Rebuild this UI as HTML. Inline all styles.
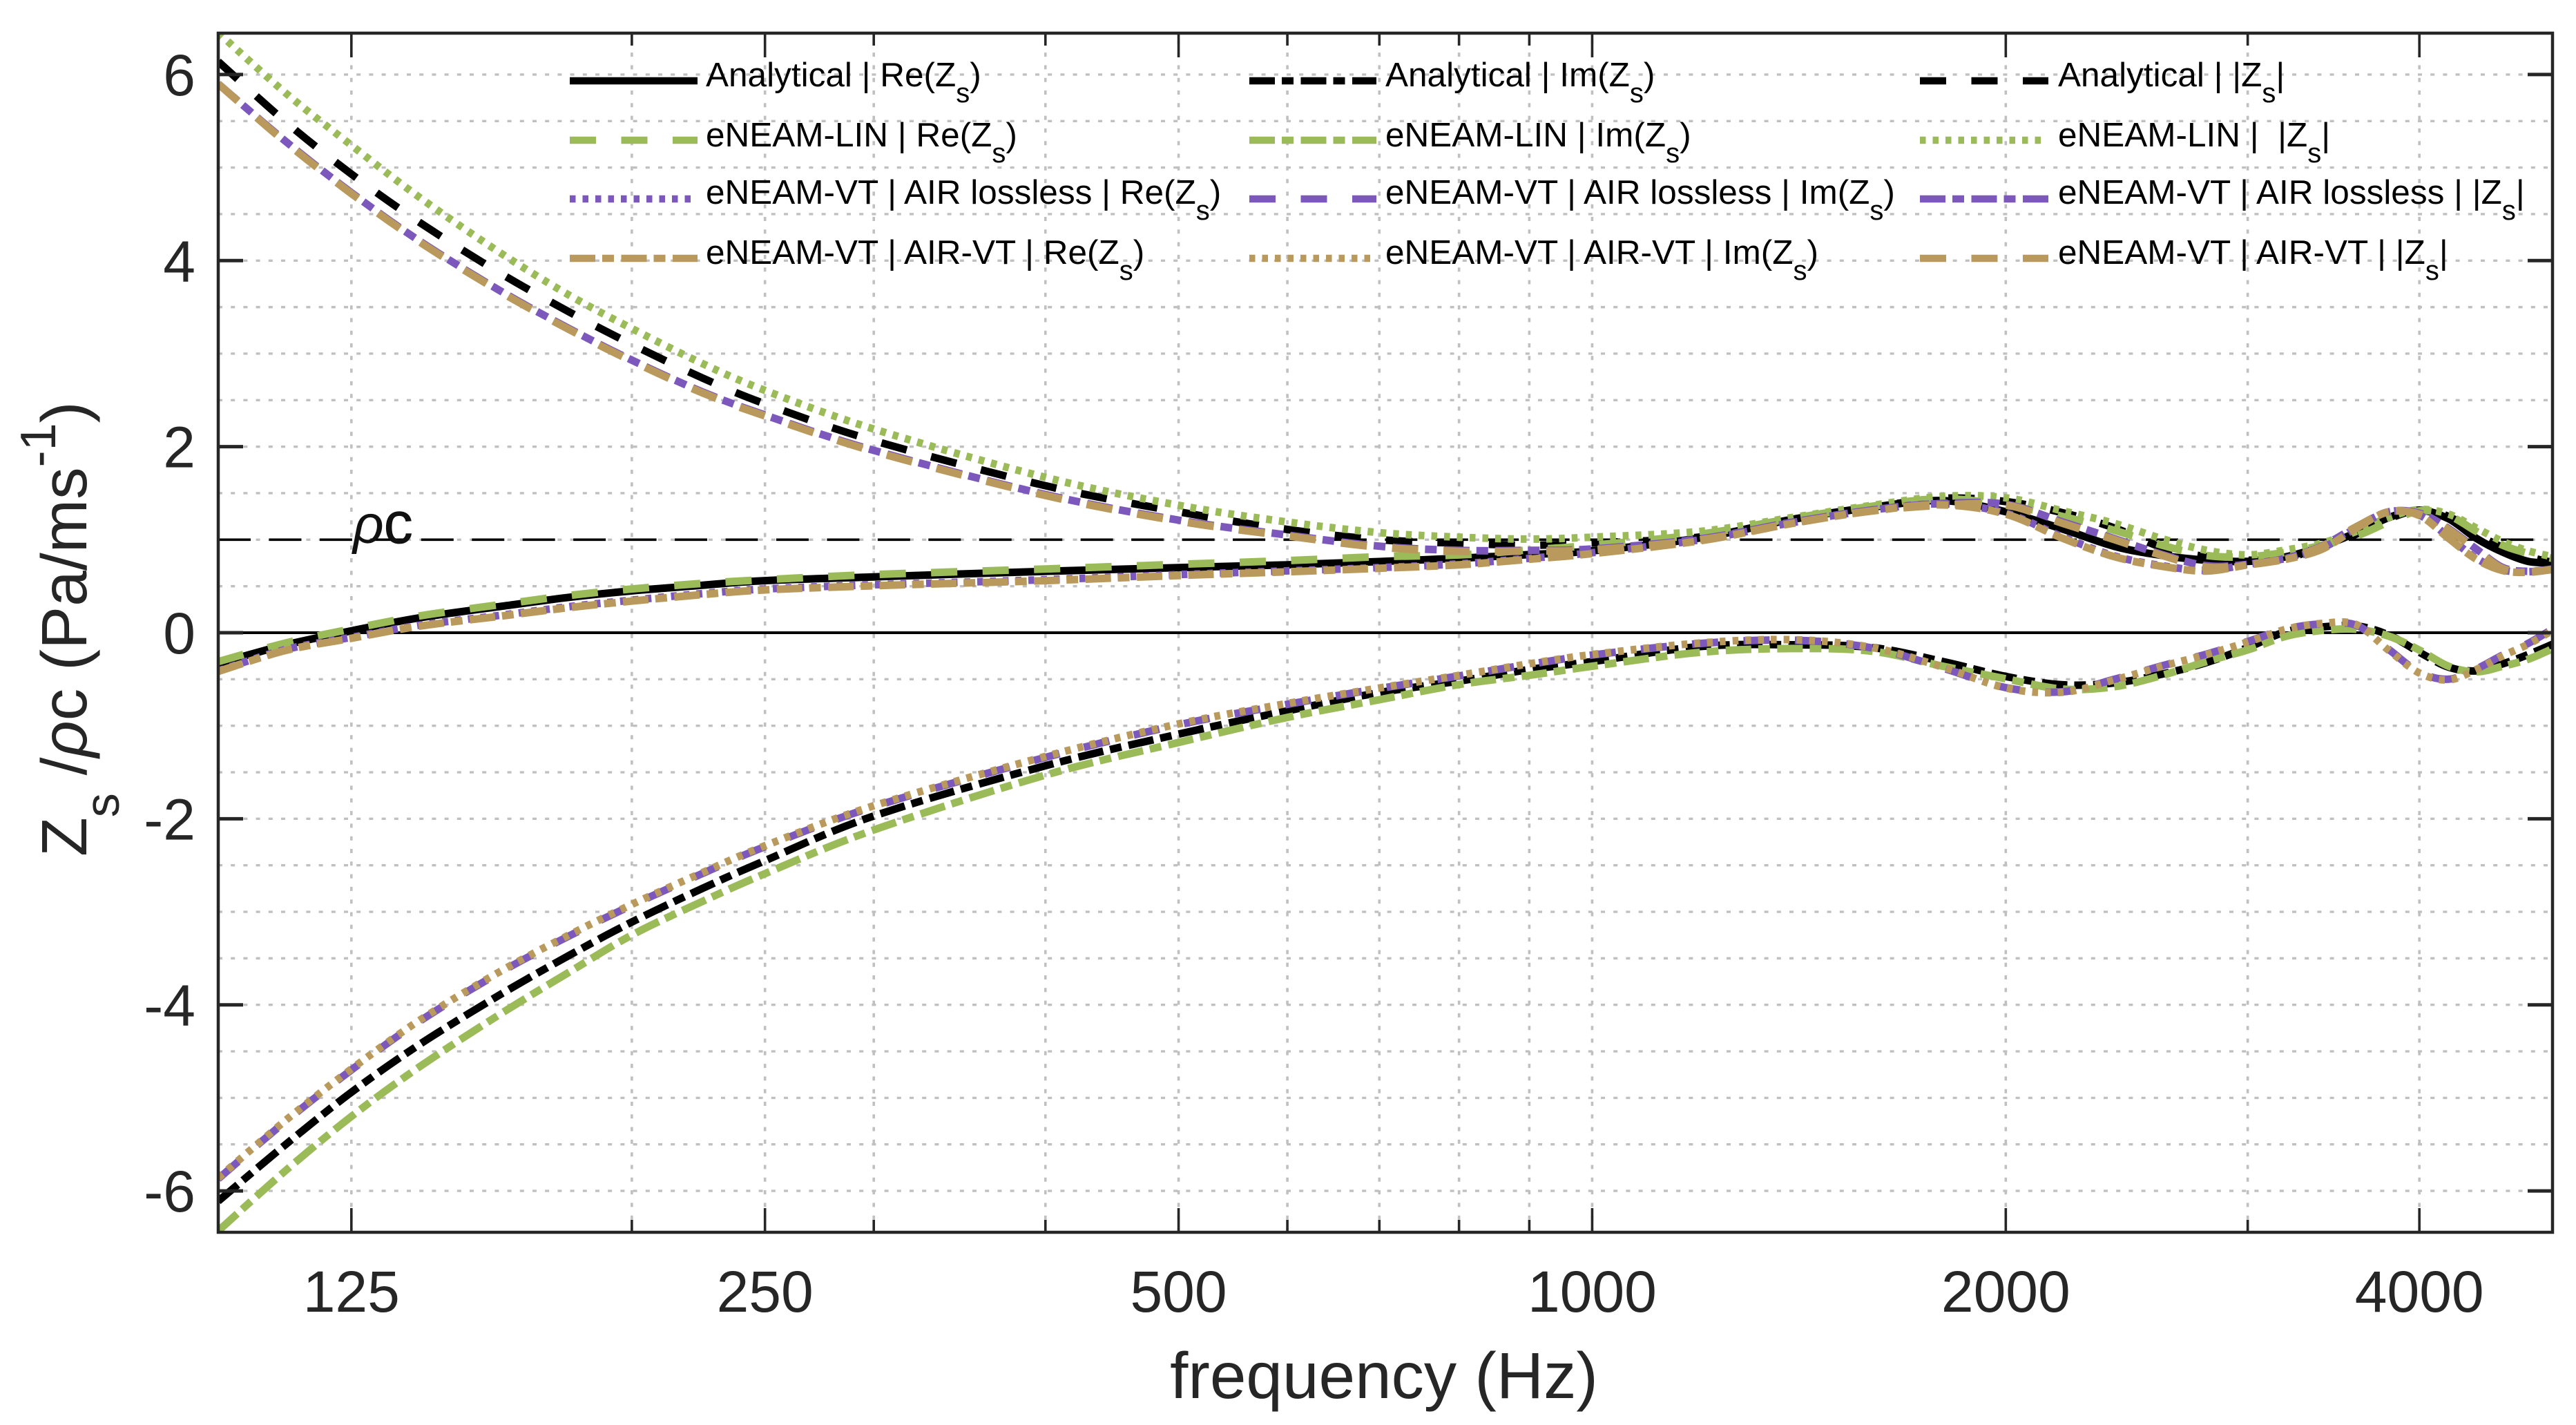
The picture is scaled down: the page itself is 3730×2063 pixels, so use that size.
<!DOCTYPE html>
<html lang="en">
<head>
<meta charset="utf-8">
<title>Normalised surface impedance versus frequency</title>
<style>
  html, body { margin: 0; padding: 0; background: #fff; }
  svg { display: block; font-family: "Liberation Sans", Arial, sans-serif; }
  .lg { font-size: 49.5px; fill: #000; white-space: pre; }
  .lgs { font-size: 40px; }
  .dash-solid { stroke-dasharray: none; }
  .dash-dashed { stroke-dasharray: 38 36.5; }
  .dash-dashdot { stroke-dasharray: 37 10 17 10.5; }
  .dash-dotted { stroke-dasharray: 8.5 10; }
  .lgl { stroke-width: 10.5; fill: none; }
  .ax { fill: #262626; }
</style>
</head>
<body>
<svg id="chart" xmlns="http://www.w3.org/2000/svg" width="3730" height="2063" viewBox="0 0 3730 2063">
  <rect x="0" y="0" width="3730" height="2063" fill="#fff"/>
  <defs><clipPath id="plot-clip"><rect x="316" y="48" width="3380" height="1736"/></clipPath></defs>
  <g id="grid"></g>
  <g id="refs"></g>
  <g id="series" clip-path="url(#plot-clip)"></g>
  <g id="ticks"></g>
  <rect x="316" y="48" width="3380" height="1736" fill="none" stroke="#262626" stroke-width="4.5"/>
  <g id="tick-labels"></g>

  <text class="ax" x="2004" y="2024" font-size="94.5" text-anchor="middle">frequency (Hz)</text>
  <text class="ax" transform="translate(125,1240) rotate(-90)" font-size="93" xml:space="preserve">Z<tspan font-size="70" dy="47">s</tspan><tspan dy="-47"> /</tspan><tspan font-style="italic">ρ</tspan>c (Pa/ms<tspan font-size="72" dy="-45">-1</tspan><tspan dy="45">)</tspan></text>
  <text x="511" y="786" font-size="78" fill="#111"><tspan font-style="italic">ρ</tspan><tspan font-size="84" stroke="#111" stroke-width="0.8">c</tspan></text>

  <g>
    <g><line class="lgl dash-solid" x1="825" x2="1010" y1="117" y2="117" stroke="#000"/><text class="lg" x="1022" y="125">Analytical | Re(Z<tspan class="lgs" dy="23">s</tspan><tspan dy="-23">)</tspan></text></g>
    <g><line class="lgl dash-dashdot" x1="1809" x2="1993" y1="117" y2="117" stroke="#000"/><text class="lg" x="2006" y="125">Analytical | Im(Z<tspan class="lgs" dy="23">s</tspan><tspan dy="-23">)</tspan></text></g>
    <g><line class="lgl dash-dashed" x1="2780" x2="2966" y1="117" y2="117" stroke="#000"/><text class="lg" x="2980" y="125">Analytical | |Z<tspan class="lgs" dy="23">s</tspan><tspan dy="-23">|</tspan></text></g>

    <g><line class="lgl dash-dashed" x1="825" x2="1010" y1="203" y2="203" stroke="#9bbb59"/><text class="lg" x="1022" y="212">eNEAM-LIN | Re(Z<tspan class="lgs" dy="23">s</tspan><tspan dy="-23">)</tspan></text></g>
    <g><line class="lgl dash-dashdot" x1="1809" x2="1993" y1="203" y2="203" stroke="#9bbb59"/><text class="lg" x="2006" y="212">eNEAM-LIN | Im(Z<tspan class="lgs" dy="23">s</tspan><tspan dy="-23">)</tspan></text></g>
    <g><line class="lgl dash-dotted" x1="2780" x2="2962" y1="203" y2="203" stroke="#9bbb59"/><text class="lg" x="2980" y="212">eNEAM-LIN |  |Z<tspan class="lgs" dy="23">s</tspan><tspan dy="-23">|</tspan></text></g>

    <g><line class="lgl dash-dotted" x1="825" x2="1002" y1="288" y2="288" stroke="#7c58bd"/><text class="lg" x="1022" y="295">eNEAM-VT | AIR lossless | Re(Z<tspan class="lgs" dy="23">s</tspan><tspan dy="-23">)</tspan></text></g>
    <g><line class="lgl dash-dashed" x1="1809" x2="1993" y1="288" y2="288" stroke="#7c58bd"/><text class="lg" x="2006" y="295">eNEAM-VT | AIR lossless | Im(Z<tspan class="lgs" dy="23">s</tspan><tspan dy="-23">)</tspan></text></g>
    <g><line class="lgl dash-dashdot" x1="2780" x2="2966" y1="288" y2="288" stroke="#7c58bd"/><text class="lg" x="2980" y="295">eNEAM-VT | AIR lossless | |Z<tspan class="lgs" dy="23">s</tspan><tspan dy="-23">|</tspan></text></g>

    <g><line class="lgl dash-dashdot" x1="825" x2="1010" y1="374" y2="374" stroke="#ba9a5c"/><text class="lg" x="1022" y="382">eNEAM-VT | AIR-VT | Re(Z<tspan class="lgs" dy="23">s</tspan><tspan dy="-23">)</tspan></text></g>
    <g><line class="lgl dash-dotted" x1="1809" x2="1986" y1="374" y2="374" stroke="#ba9a5c"/><text class="lg" x="2006" y="382">eNEAM-VT | AIR-VT | Im(Z<tspan class="lgs" dy="23">s</tspan><tspan dy="-23">)</tspan></text></g>
    <g><line class="lgl dash-dashed" x1="2780" x2="2966" y1="374" y2="374" stroke="#ba9a5c"/><text class="lg" x="2980" y="382">eNEAM-VT | AIR-VT | |Z<tspan class="lgs" dy="23">s</tspan><tspan dy="-23">|</tspan></text></g>
  </g>
</svg>

<script>
var frequencies = [100,112,125,140,160,180,200,225,250,300,400,500,600,700,800,900,1000,1200,1400,1600,1800,2000,2200,2400,2600,2800,3000,3200,3400,3600,3800,4000,4200,4400,4600,4800,5000];

var analyticalRe = [-.33,-.13,.02,.16,.28,.38,.45,.51,.56,.60,.66,.70,.73,.765,.80,.84,.88,1.02,1.22,1.35,1.42,1.30,1.114,.928,.83,.78,.767,.817,.93,1.077,1.238,1.317,1.225,1.015,.866,.767,.75];
var analyticalIm = [-6.11,-5.5,-4.94,-4.43,-3.9,-3.47,-3.11,-2.75,-2.45,-1.97,-1.43,-1.09,-.84,-.644,-.52,-.396,-.31,-.148,-.13,-.16,-.31,-.47,-.56,-.54,-.445,-.32,-.16,.012,.062,.074,-.025,-.21,-.37,-.41,-.334,-.235,-.124];
var analyticalAbs = [6.14,5.49,4.93,4.415,3.875,3.45,3.10,2.74,2.46,2.065,1.58,1.30,1.11,1.0,.963,.94,.965,1.03,1.22,1.35,1.445,1.41,1.29,1.126,.916,.817,.78,.80,.93,1.06,1.225,1.317,1.25,1.064,.916,.817,.755];

var linRe = [-.31,-.11,.04,.18,.30,.40,.47,.53,.57,.625,.685,.735,.775,.817,.836,.89,.94,1.06,1.23,1.36,1.44,1.37,1.25,1.10,.94,.83,.817,.866,.94,1.04,1.19,1.31,1.26,1.09,.94,.854,.80];
var linIm = [-6.43,-5.78,-5.2,-4.67,-4.11,-3.65,-3.25,-2.89,-2.59,-2.12,-1.53,-1.18,-.91,-.72,-.557,-.458,-.36,-.21,-.17,-.2,-.36,-.495,-.606,-.58,-.458,-.31,-.185,-.037,.025,.037,-.037,-.186,-.36,-.42,-.36,-.285,-.173];
var linAbs = [6.45,5.80,5.24,4.684,4.095,3.63,3.27,2.895,2.605,2.19,1.67,1.37,1.19,1.076,1.027,1.007,1.027,1.09,1.24,1.37,1.465,1.45,1.31,1.175,1.01,.886,.837,.89,.965,1.09,1.24,1.324,1.275,1.126,.98,.88,.817];

var losslessRe = [-.41,-.18,-.05,.08,.185,.28,.35,.42,.47,.515,.57,.625,.665,.70,.74,.80,.86,1.0,1.185,1.32,1.385,1.285,1.03,.825,.72,.67,.735,.80,.91,1.13,1.30,1.265,1.03,.80,.675,.655,.685];
var losslessIm = [-5.87,-5.25,-4.70,-4.18,-3.66,-3.26,-2.93,-2.59,-2.30,-1.87,-1.34,-.99,-.77,-.6,-.465,-.34,-.24,-.115,-.08,-.165,-.38,-.59,-.635,-.5,-.355,-.23,-.095,.04,.095,.08,-.18,-.425,-.5,-.39,-.24,-.115,.04];
var losslessAbs = [5.9,5.28,4.73,4.215,3.685,3.27,2.93,2.59,2.34,1.96,1.485,1.21,1.05,.93,.885,.885,.90,1.01,1.19,1.32,1.39,1.38,1.19,1.01,.84,.72,.735,.80,.935,1.14,1.30,1.285,1.12,.90,.70,.66,.685];

var airVtRe = [-.416,-.19,-.06,.07,.175,.27,.34,.41,.46,.505,.56,.615,.655,.693,.73,.79,.85,.99,1.176,1.31,1.374,1.275,1.015,.817,.713,.663,.73,.79,.90,1.126,1.30,1.26,1.015,.79,.668,.65,.68];
var airVtIm = [-5.86,-5.24,-4.69,-4.17,-3.65,-3.25,-2.92,-2.58,-2.29,-1.86,-1.33,-.98,-.76,-.594,-.458,-.334,-.235,-.11,-.075,-.16,-.37,-.594,-.64,-.507,-.36,-.235,-.10,.037,.1,.087,-.19,-.433,-.507,-.396,-.248,-.124,.025];
var airVtAbs = [5.9,5.27,4.72,4.205,3.675,3.26,2.92,2.58,2.33,1.95,1.475,1.2,1.04,.92,.875,.878,.89,1.0,1.18,1.31,1.37,1.374,1.176,1.0,.83,.705,.73,.797,.93,1.14,1.30,1.275,1.11,.89,.69,.656,.68];

var xMajorTicks = [125,250,500,1000,2000,4000];
var xTickLabels = ["125","250","500","1000","2000","4000"];
var xMinorTicks = [200,300,400,600,700,800,900,3000];
var yMajorTicks = [-6,-4,-2,0,2,4,6];
var yTickLabels = ["-6","-4","-2","0","2","4","6"];
var yGridValues = [-6,-5.5,-5,-4.5,-4,-3.5,-3,-2.5,-2,-1.5,-1,-.5,.5,1,1.5,2,2.5,3,3.5,4,4.5,5,5.5,6];
var referenceRhoC = 1;
var referenceZero = 0;
var xLimits = [100,5000];
var yLimits = [-6.445,6.445];

var seriesKeys = ["analytical-re","analytical-im","analytical-abs","lin-re","lin-im","lin-abs","lossless-re","lossless-im","lossless-abs","airvt-re","airvt-im","airvt-abs"];
var seriesValues = [analyticalRe,analyticalIm,analyticalAbs,linRe,linIm,linAbs,losslessRe,losslessIm,losslessAbs,airVtRe,airVtIm,airVtAbs];
var seriesColors = ["#000","#000","#000","#9bbb59","#9bbb59","#9bbb59","#7c58bd","#7c58bd","#7c58bd","#ba9a5c","#ba9a5c","#ba9a5c"];
var seriesStyles = ["solid","dashdot","dashed","dashed","dashdot","dotted","dotted","dashed","dashdot","dashdot","dotted","dashed"];

var NS = "http://www.w3.org/2000/svg";
var plotLeft = 316, plotRight = 3696, plotTop = 48, plotBottom = 1784;

function xScale(f) {
  var a = Math.log(xLimits[0]), b = Math.log(xLimits[1]);
  return plotLeft + (Math.log(f) - a) / (b - a) * (plotRight - plotLeft);
}
function yScale(v) {
  return plotBottom - (v - yLimits[0]) / (yLimits[1] - yLimits[0]) * (plotBottom - plotTop);
}
function make(tag, parent) {
  var el = document.createElementNS(NS, tag);
  parent.appendChild(el);
  return el;
}
function setLine(el, x1, y1, x2, y2, color, width, dash) {
  el.setAttribute("x1", x1);
  el.setAttribute("y1", y1);
  el.setAttribute("x2", x2);
  el.setAttribute("y2", y2);
  el.setAttribute("stroke", color);
  el.setAttribute("stroke-width", width);
  if (dash) el.setAttribute("stroke-dasharray", dash);
}
function smoothPath(xs, ys) {
  var d = "M" + xs[0].toFixed(1) + " " + ys[0].toFixed(1);
  for (var i = 0; i < xs.length - 1; i++) {
    var p0 = Math.max(i - 1, 0), p3 = Math.min(i + 2, xs.length - 1);
    var c1x = xs[i] + (xs[i + 1] - xs[p0]) / 6;
    var c1y = ys[i] + (ys[i + 1] - ys[p0]) / 6;
    var c2x = xs[i + 1] - (xs[p3] - xs[i]) / 6;
    var c2y = ys[i + 1] - (ys[p3] - ys[i]) / 6;
    d += "C" + c1x.toFixed(1) + " " + c1y.toFixed(1) + " " + c2x.toFixed(1) + " " + c2y.toFixed(1) + " " + xs[i + 1].toFixed(1) + " " + ys[i + 1].toFixed(1);
  }
  return d;
}

var gridGroup = document.getElementById("grid");
var refsGroup = document.getElementById("refs");
var seriesGroup = document.getElementById("series");
var ticksGroup = document.getElementById("ticks");
var labelsGroup = document.getElementById("tick-labels");

yGridValues.forEach(function (v) {
  var el = make("line", gridGroup);
  
  
  setLine(el, plotLeft, yScale(v), plotRight, yScale(v), "#c0c0c0", 3.4, "6 12.2");
});
xMajorTicks.concat(xMinorTicks).forEach(function (f) {
  var el = make("line", gridGroup);
  
  
  setLine(el, xScale(f), plotBottom, xScale(f), plotTop, "#c0c0c0", 3.6, "6 12.3");
});

var zeroLine = make("line", refsGroup);


setLine(zeroLine, plotLeft, yScale(referenceZero), plotRight, yScale(referenceZero), "#000", 4);

var rhoLine = make("line", refsGroup);


setLine(rhoLine, plotLeft, yScale(referenceRhoC), xScale(4850), yScale(referenceRhoC), "#000", 3.6, "47 26.45");

seriesValues.forEach(function (values, i) {
  var xs = frequencies.map(xScale);
  var ys = values.map(yScale);
  var path = make("path", seriesGroup);
  
  
  path.setAttribute("d", smoothPath(xs, ys));
  path.setAttribute("fill", "none");
  path.setAttribute("stroke", seriesColors[i]);
  path.setAttribute("stroke-width", "11");
  path.setAttribute("class", "dash-" + seriesStyles[i]);
});

xMajorTicks.forEach(function (f, i) {
  var top = make("line", ticksGroup);
  
  
  setLine(top, xScale(f), plotTop, xScale(f), plotTop + 35, "#262626", 3.6);
  var bottom = make("line", ticksGroup);
  
  
  setLine(bottom, xScale(f), plotBottom, xScale(f), plotBottom - 35, "#262626", 3.6);
  var label = make("text", labelsGroup);
  
  
  label.setAttribute("x", xScale(f));
  label.setAttribute("y", 1899);
  label.setAttribute("text-anchor", "middle");
  label.setAttribute("font-size", "84");
  label.setAttribute("fill", "#262626");
  label.textContent = xTickLabels[i];
});
xMinorTicks.forEach(function (f) {
  var top = make("line", ticksGroup);
  
  
  setLine(top, xScale(f), plotTop, xScale(f), plotTop + 18, "#262626", 3.6);
  var bottom = make("line", ticksGroup);
  
  
  setLine(bottom, xScale(f), plotBottom, xScale(f), plotBottom - 18, "#262626", 3.6);
});
yMajorTicks.forEach(function (v, i) {
  var left = make("line", ticksGroup);
  
  
  setLine(left, plotLeft, yScale(v), plotLeft + 36, yScale(v), "#262626", 5);
  var right = make("line", ticksGroup);
  
  
  setLine(right, plotRight, yScale(v), plotRight - 36, yScale(v), "#262626", 5);
  var label = make("text", labelsGroup);
  
  
  label.setAttribute("x", 283);
  label.setAttribute("y", yScale(v) + 30);
  label.setAttribute("text-anchor", "end");
  label.setAttribute("font-size", "84");
  label.setAttribute("fill", "#262626");
  label.textContent = yTickLabels[i];
});
</script>
</body>
</html>
